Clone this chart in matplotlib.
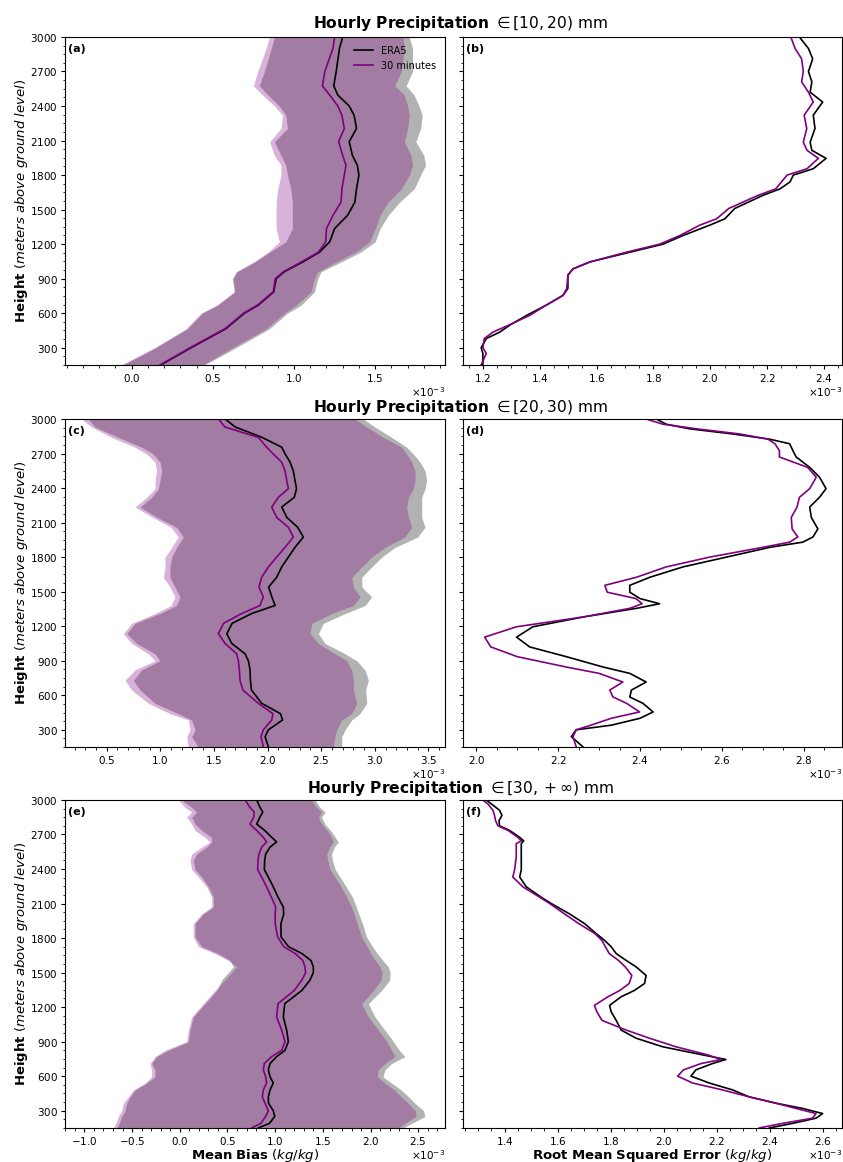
import numpy as np
import matplotlib.pyplot as plt

plt.rcParams['axes.formatter.use_mathtext'] = True
plt.rcParams['mathtext.fontset'] = 'dejavusans'
plt.rcParams['font.size'] = 7.5

# values are in units of 1e-3 kg/kg, heights in m above ground level

# (a) mean bias, [10, 20) mm
a_h = [3000, 2900, 2700, 2575, 2495, 2400, 2320, 2205, 2090, 1970, 1885, 1800, 1680, 1565,
       1450, 1335, 1220, 1130, 1045, 960, 900, 785, 670, 600, 465, 300, 150]
a_era5 = [1.30, 1.28, 1.26, 1.245, 1.27, 1.34, 1.37, 1.385, 1.34, 1.36, 1.39, 1.40, 1.385, 1.375,
          1.33, 1.25, 1.22, 1.157, 1.054, 0.94, 0.89, 0.875, 0.78, 0.695, 0.58, 0.366, 0.18]
a_m30 = [1.25, 1.24, 1.19, 1.175, 1.22, 1.27, 1.295, 1.31, 1.275, 1.30, 1.32, 1.31, 1.295, 1.29,
         1.24, 1.20, 1.195, 1.15, 1.045, 0.935, 0.885, 0.872, 0.775, 0.69, 0.575, 0.36, 0.175]
a_era5_lo = [0.88, 0.86, 0.818, 0.787, 0.84, 0.91, 0.95, 0.96, 0.88, 0.92, 0.95, 0.96, 0.98, 0.99,
             0.99, 0.99, 0.95, 0.85, 0.76, 0.65, 0.625, 0.635, 0.53, 0.435, 0.345, 0.15, -0.055]
a_era5_hi = [1.71, 1.73, 1.73, 1.69, 1.74, 1.77, 1.79, 1.78, 1.75, 1.80, 1.81, 1.78, 1.74, 1.65,
             1.58, 1.53, 1.50, 1.41, 1.29, 1.167, 1.147, 1.126, 1.044, 0.96, 0.849, 0.643, 0.448]
a_m30_lo = [0.849, 0.828, 0.777, 0.75, 0.807, 0.88, 0.93, 0.92, 0.85, 0.88, 0.92, 0.92, 0.90, 0.89,
            0.89, 0.89, 0.91, 0.84, 0.75, 0.643, 0.62, 0.632, 0.525, 0.427, 0.335, 0.14, -0.066]
a_m30_hi = [1.67, 1.68, 1.66, 1.62, 1.68, 1.70, 1.71, 1.70, 1.68, 1.72, 1.73, 1.71, 1.66, 1.58,
            1.53, 1.50, 1.465, 1.38, 1.26, 1.147, 1.126, 1.105, 1.013, 0.94, 0.828, 0.62, 0.438]

# (b) rmse, [10, 20) mm
b_h = [3000, 2900, 2810, 2700, 2610, 2520, 2435, 2320, 2205, 2085, 2015, 1945, 1855, 1800, 1740,
       1680, 1625, 1510, 1420, 1365, 1275, 1200, 1130, 1045, 985, 930, 815, 755, 670, 580, 495,
       435, 380, 300, 250, 150]
b_era5 = [2.313, 2.345, 2.360, 2.345, 2.357, 2.351, 2.395, 2.362, 2.368, 2.351, 2.357, 2.407,
          2.362, 2.292, 2.280, 2.245, 2.186, 2.086, 2.051, 1.998, 1.904, 1.834, 1.717, 1.576,
          1.517, 1.499, 1.499, 1.482, 1.423, 1.353, 1.294, 1.259, 1.212, 1.194, 1.20, 1.20]
b_m30 = [2.283, 2.298, 2.321, 2.327, 2.321, 2.345, 2.362, 2.33, 2.339, 2.327, 2.34, 2.38,
         2.34, 2.27, 2.25, 2.23, 2.169, 2.065, 2.022, 1.963, 1.893, 1.822, 1.705, 1.576,
         1.517, 1.499, 1.495, 1.482, 1.423, 1.364, 1.29, 1.235, 1.205, 1.20, 1.212, 1.194]

# (c) mean bias, [20, 30) mm
c_h = [3000, 2930, 2840, 2755, 2695, 2625, 2550, 2465, 2395, 2320, 2235, 2145, 2060, 1975, 1885,
       1800, 1715, 1625, 1540, 1455, 1380, 1310, 1225, 1135, 1050, 960, 900, 820, 730, 645, 530,
       440, 385, 300, 240, 150]
c_era5 = [1.604, 1.70, 1.95, 2.132, 2.165, 2.21, 2.24, 2.256, 2.27, 2.25, 2.132, 2.18, 2.28, 2.334,
          2.256, 2.194, 2.132, 2.085, 2.01, 2.04, 2.07, 1.852, 1.67, 1.62, 1.666, 1.79, 1.821,
          1.837, 1.84, 1.85, 1.945, 2.12, 2.14, 2.008, 1.977, 2.008]
c_m30 = [1.541, 1.604, 1.914, 1.992, 2.054, 2.132, 2.163, 2.179, 2.194, 2.101, 2.039, 2.085, 2.194,
         2.24, 2.163, 2.085, 2.008, 1.945, 1.92, 1.96, 1.93, 1.759, 1.59, 1.541, 1.604, 1.712,
         1.728, 1.737, 1.743, 1.77, 1.914, 2.05, 2.039, 1.961, 1.939, 1.961]
c_era5_lo = [0.329, 0.391, 0.609, 0.826, 0.935, 0.997, 1.013, 0.997, 0.982, 0.92, 0.811, 0.97,
             1.15, 1.215, 1.153, 1.106, 1.09, 1.09, 1.137, 1.184, 1.15, 0.997, 0.764, 0.686,
             0.78, 0.951, 0.997, 0.826, 0.749, 0.811, 0.951, 1.168, 1.293, 1.324, 1.293, 1.355]
c_era5_hi = [2.894, 3.002, 3.158, 3.298, 3.36, 3.422, 3.469, 3.484, 3.469, 3.438, 3.438, 3.438,
             3.469, 3.40, 3.189, 3.065, 2.971, 2.878, 2.88, 2.971, 2.91, 2.723, 2.52, 2.474,
             2.536, 2.723, 2.831, 2.909, 2.94, 2.915, 2.925, 2.862, 2.785, 2.723, 2.692, 2.692]
c_m30_lo = [0.267, 0.36, 0.547, 0.764, 0.873, 0.951, 0.966, 0.951, 0.951, 0.873, 0.764, 0.93,
            1.10, 1.168, 1.106, 1.044, 1.044, 1.028, 1.09, 1.137, 1.10, 0.951, 0.733, 0.655,
            0.733, 0.889, 0.951, 0.764, 0.671, 0.733, 0.889, 1.09, 1.262, 1.277, 1.246, 1.262]
c_m30_hi = [2.816, 2.925, 3.08, 3.251, 3.298, 3.344, 3.375, 3.375, 3.36, 3.313, 3.298, 3.313,
            3.344, 3.28, 3.096, 2.971, 2.878, 2.785, 2.80, 2.862, 2.80, 2.598, 2.412, 2.396,
            2.474, 2.63, 2.738, 2.785, 2.80, 2.80, 2.831, 2.785, 2.692, 2.645, 2.629, 2.614]

# (d) rmse, [20, 30) mm
d_h = [3000, 2955, 2915, 2870, 2825, 2785, 2725, 2670, 2580, 2495, 2395, 2320, 2235, 2145, 2045,
       1975, 1930, 1885, 1800, 1715, 1625, 1555, 1495, 1440, 1395, 1355, 1280, 1195, 1105, 1020,
       935, 845, 790, 715, 645, 585, 530, 455, 400, 340, 300, 240, 150]
d_era5 = [2.44, 2.464, 2.521, 2.627, 2.717, 2.766, 2.774, 2.782, 2.815, 2.839, 2.855, 2.839, 2.815,
          2.819, 2.835, 2.823, 2.798, 2.717, 2.611, 2.505, 2.424, 2.375, 2.375, 2.40, 2.448, 2.391,
          2.261, 2.138, 2.098, 2.13, 2.22, 2.31, 2.375, 2.415, 2.379, 2.375, 2.407, 2.432, 2.40,
          2.33, 2.244, 2.232, 2.261]
d_m30 = [2.415, 2.456, 2.538, 2.644, 2.713, 2.73, 2.741, 2.741, 2.81, 2.831, 2.815, 2.79, 2.784,
         2.77, 2.772, 2.786, 2.766, 2.70, 2.57, 2.464, 2.391, 2.314, 2.32, 2.39, 2.405, 2.375,
         2.261, 2.098, 2.02, 2.035, 2.10, 2.22, 2.30, 2.358, 2.326, 2.334, 2.367, 2.399, 2.33,
         2.28, 2.244, 2.236, 2.244]

# (e) mean bias, [30, inf) mm
e_h = [3000, 2935, 2895, 2850, 2790, 2735, 2675, 2635, 2590, 2530, 2475, 2395, 2330, 2245, 2155,
       2070, 2010, 1925, 1810, 1725, 1665, 1605, 1550, 1500, 1435, 1345, 1230, 1115, 1000, 900,
       825, 770, 710, 655, 595, 540, 480, 420, 365, 300, 250, 190, 150]
e_era5 = [0.806, 0.841, 0.87, 0.84, 0.806, 0.89, 0.963, 1.015, 0.946, 0.90, 0.89, 0.886, 0.928,
          0.98, 1.03, 1.085, 1.09, 1.06, 1.062, 1.14, 1.28, 1.375, 1.40, 1.40, 1.365, 1.28, 1.10,
          1.085, 1.12, 1.138, 1.103, 1.015, 0.946, 0.928, 0.946, 0.98, 0.946, 0.928, 0.93, 0.98,
          0.995, 0.94, 0.823]
e_m30 = [0.684, 0.736, 0.78, 0.775, 0.736, 0.806, 0.876, 0.91, 0.858, 0.83, 0.82, 0.816, 0.858,
         0.91, 0.96, 1.005, 1.0, 1.0, 1.026, 1.09, 1.21, 1.29, 1.312, 1.319, 1.28, 1.20, 1.03,
         1.015, 1.068, 1.103, 1.068, 0.963, 0.886, 0.876, 0.9, 0.91, 0.876, 0.865, 0.893, 0.928,
         0.90, 0.85, 0.753]
e_era5_lo = [0.02, 0.125, 0.177, 0.125, 0.16, 0.23, 0.334, 0.334, 0.282, 0.177, 0.142, 0.16, 0.23,
             0.30, 0.352, 0.352, 0.247, 0.16, 0.16, 0.23, 0.404, 0.526, 0.561, 0.509, 0.439, 0.387,
             0.264, 0.142, 0.107, 0.09, -0.12, -0.242, -0.295, -0.26, -0.26, -0.347, -0.469,
             -0.521, -0.556, -0.574, -0.609, -0.635, -0.661]
e_era5_hi = [1.417, 1.469, 1.522, 1.487, 1.522, 1.58, 1.63, 1.661, 1.62, 1.59, 1.60, 1.63, 1.679,
             1.745, 1.81, 1.85, 1.875, 1.915, 1.957, 2.02, 2.07, 2.13, 2.185, 2.205, 2.20, 2.116,
             1.976, 2.046, 2.15, 2.24, 2.30, 2.36, 2.22, 2.15, 2.13, 2.22, 2.32, 2.40, 2.465,
             2.555, 2.57, 2.43, 2.342]
e_m30_lo = [-0.015, 0.055, 0.125, 0.072, 0.125, 0.16, 0.264, 0.317, 0.23, 0.125, 0.107, 0.125,
            0.195, 0.282, 0.334, 0.334, 0.23, 0.142, 0.142, 0.195, 0.369, 0.509, 0.596, 0.544,
            0.474, 0.369, 0.247, 0.125, 0.09, 0.072, -0.155, -0.26, -0.312, -0.295, -0.295,
            -0.364, -0.486, -0.539, -0.591, -0.609, -0.644, -0.67, -0.696]
e_m30_hi = [1.382, 1.434, 1.487, 1.452, 1.487, 1.545, 1.59, 1.609, 1.57, 1.54, 1.55, 1.575, 1.627,
            1.69, 1.75, 1.80, 1.825, 1.86, 1.905, 1.965, 2.0, 2.05, 2.098, 2.12, 2.11, 2.028,
            1.906, 1.976, 2.081, 2.17, 2.22, 2.255, 2.15, 2.08, 2.07, 2.15, 2.25, 2.32, 2.395,
            2.47, 2.475, 2.36, 2.29]

# (f) rmse, [30, inf) mm
f_h = [3000, 2965, 2910, 2865, 2820, 2775, 2735, 2675, 2645, 2620, 2505, 2395, 2330, 2245, 2155,
       2100, 2010, 1925, 1840, 1780, 1725, 1665, 1605, 1550, 1475, 1405, 1345, 1290, 1215, 1160,
       1085, 1000, 930, 855, 785, 745, 710, 655, 600, 540, 480, 420, 365, 320, 275, 235, 190, 150]
f_era5 = [1.331, 1.35, 1.381, 1.39, 1.379, 1.381, 1.419, 1.457, 1.472, 1.463, 1.463, 1.463, 1.457,
          1.482, 1.538, 1.576, 1.645, 1.702, 1.745, 1.777, 1.802, 1.821, 1.859, 1.896, 1.934,
          1.928, 1.89, 1.84, 1.796, 1.802, 1.821, 1.84, 1.896, 1.997, 2.147, 2.235, 2.185, 2.122,
          2.103, 2.173, 2.261, 2.323, 2.424, 2.524, 2.60, 2.575, 2.487, 2.399]
f_m30 = [1.318, 1.337, 1.356, 1.362, 1.366, 1.375, 1.413, 1.45, 1.463, 1.444, 1.444, 1.438, 1.431,
         1.469, 1.532, 1.57, 1.626, 1.68, 1.74, 1.767, 1.78, 1.795, 1.83, 1.855, 1.88, 1.87, 1.835,
         1.79, 1.739, 1.748, 1.767, 1.859, 1.946, 2.047, 2.166, 2.217, 2.142, 2.075, 2.053, 2.11,
         2.223, 2.323, 2.424, 2.499, 2.575, 2.562, 2.449, 2.361]

titles = [r'$\mathbf{Hourly\ Precipitation}$ $\in[10, 20)$ mm',
          r'$\mathbf{Hourly\ Precipitation}$ $\in[20, 30)$ mm',
          r'$\mathbf{Hourly\ Precipitation}$ $\in[30, +\infty)$ mm']

bias_rows = [
    (a_h, a_era5, a_era5_lo, a_era5_hi, a_m30, a_m30_lo, a_m30_hi),
    (c_h, c_era5, c_era5_lo, c_era5_hi, c_m30, c_m30_lo, c_m30_hi),
    (e_h, e_era5, e_era5_lo, e_era5_hi, e_m30, e_m30_lo, e_m30_hi),
]
rmse_rows = [(b_h, b_era5, b_m30), (d_h, d_era5, d_m30), (f_h, f_era5, f_m30)]

left_xlim = [(-0.41, 1.93), (0.111, 3.655), (-1.203, 2.78)]
right_xlim = [(1.13, 2.463), (1.967, 2.894), (1.243, 2.673)]

fig = plt.figure(figsize=(8.43, 11.62), dpi=100)

row_bottom = [0.6859, 0.3571, 0.0293]
row_height = 0.2823
title_y = [0.9795, 0.6497, 0.3211]
panel_tags = [('(a)', '(b)'), ('(c)', '(d)'), ('(e)', '(f)')]

ylab = r'$\mathbf{Height}$ $(meters\ above\ ground\ level)$'
k = 1e-3

for r in range(3):
    axl = fig.add_axes([0.0771, row_bottom[r], 0.4508, row_height])
    axr = fig.add_axes([0.5492, row_bottom[r], 0.4496, row_height], sharey=axl)

    h, e5, e5lo, e5hi, m3, m3lo, m3hi = bias_rows[r]
    h = np.array(h)
    axl.fill_betweenx(h, np.array(e5lo) * k, np.array(e5hi) * k, color='gray', alpha=0.6, lw=0)
    axl.fill_betweenx(h, np.array(m3lo) * k, np.array(m3hi) * k, color='purple', alpha=0.3, lw=0)
    axl.plot(np.array(e5) * k, h, color='black', lw=1.2, label='ERA5')
    axl.plot(np.array(m3) * k, h, color='purple', lw=1.2, label='30 minutes')
    axl.set_xlim(left_xlim[r][0] * k, left_xlim[r][1] * k)

    hr, re5, rm3 = rmse_rows[r]
    axr.plot(np.array(re5) * k, hr, color='black', lw=1.2)
    axr.plot(np.array(rm3) * k, hr, color='purple', lw=1.2)
    axr.set_xlim(right_xlim[r][0] * k, right_xlim[r][1] * k)

    for ax, tag in zip((axl, axr), panel_tags[r]):
        ax.set_ylim(150, 3000)
        ax.set_yticks(range(300, 3001, 300))
        ax.minorticks_on()
        ax.ticklabel_format(axis='x', style='sci', scilimits=(0, 0))
        ax.tick_params(which='major', labelsize=7.5, length=3, pad=2)
        ax.tick_params(which='minor', length=1.8)
        ax.xaxis.get_offset_text().set_fontsize(7.5)
        ax.xaxis.OFFSETTEXTPAD = 1
        ax.text(0.008, 0.978, tag, transform=ax.transAxes, fontweight='bold',
                fontsize=8, ha='left', va='top')
    axr.tick_params(labelleft=False)
    axl.set_ylabel(ylab, fontsize=9.5, labelpad=0.5)

    if r == 0:
        axl.legend(loc='upper right', frameon=False, fontsize=7)
    if r == 2:
        axl.set_xlabel(r'$\mathbf{Mean\ Bias}$ $(kg/kg)$', fontsize=9.5, labelpad=0)
        axr.set_xlabel(r'$\mathbf{Root\ Mean\ Squared\ Error}$ $(kg/kg)$', fontsize=9.5, labelpad=0)

    fig.text(0.546, title_y[r], titles[r], fontsize=11.2, ha='center', va='center')

fig.savefig('out.png', dpi=100)
